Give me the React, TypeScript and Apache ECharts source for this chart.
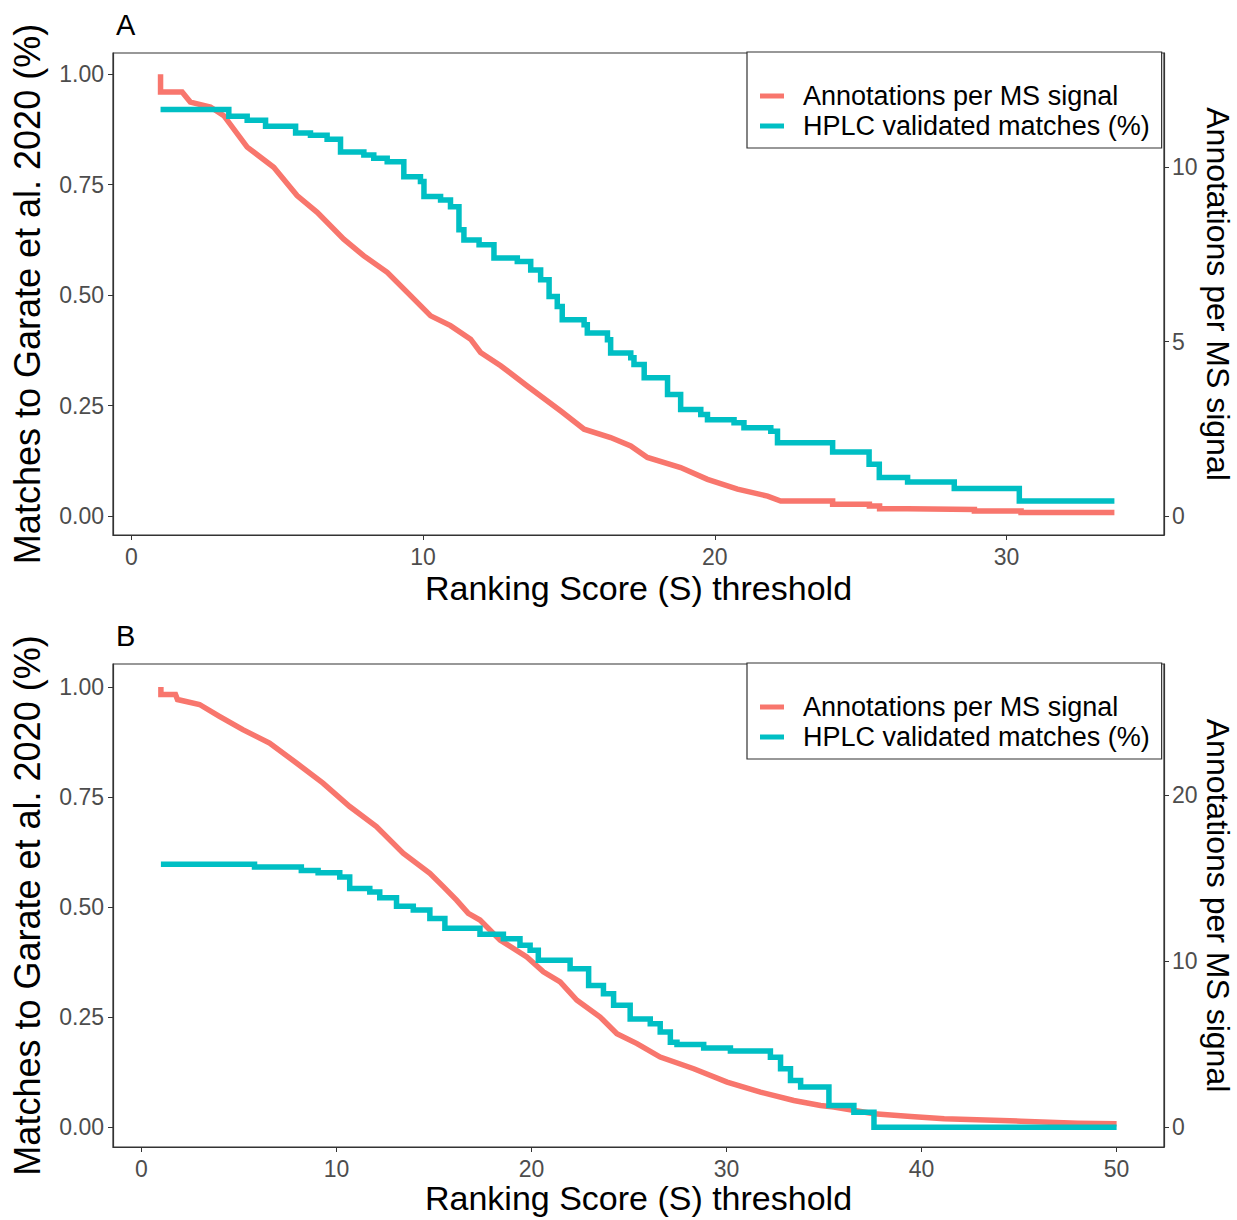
import React, { useEffect, useRef } from "react";
import * as echarts from "echarts";

const seriesNames = ["Annotations per MS signal", "HPLC validated matches (%)"];
const panelLabels = ["A", "B"];
const xTitle = "Ranking Score (S) threshold";
const leftTitle = "Matches to Garate et al. 2020 (%)";
const rightTitle = "Annotations per MS signal";

const leftTicks = [0, 0.25, 0.5, 0.75, 1];
const xTicksA = [0, 10, 20, 30];
const rightTicksA = [0, 5, 10];
const xTicksB = [0, 10, 20, 30, 40, 50];
const rightTicksB = [0, 10, 20];

// Panel A: annotations per MS signal (right axis units)
const redA: [number, number][] = [
  [1, 12.67], [1, 12.16], [1.74, 12.16], [2.02, 11.87], [2.71, 11.73], [3.17, 11.48],
  [3.97, 10.58], [4.88, 10.0], [5.68, 9.19], [6.37, 8.71], [7.28, 7.94], [7.97, 7.46],
  [8.77, 6.99], [9.57, 6.32], [10.26, 5.74], [10.94, 5.46], [11.63, 5.07], [11.97, 4.69],
  [12.66, 4.31], [13.57, 3.73], [14.72, 3.01], [15.52, 2.49], [16.43, 2.25], [17.12, 2.01],
  [17.69, 1.68], [18.83, 1.39], [19.75, 1.05], [20.78, 0.77], [21.81, 0.57], [22.26, 0.43],
  [24.04, 0.43], [24.04, 0.34], [25.3, 0.34], [25.3, 0.29], [25.65, 0.29], [25.65, 0.21],
  [26.6, 0.21], [26.6, 0.19], [28.9, 0.19], [28.9, 0.14], [30.5, 0.14], [30.5, 0.1], [33.7, 0.1],
];

// Panel A: HPLC validated matches (left axis units), step points
const tealA: [number, number][] = [
  [1, 0.92], [3.34, 0.905], [3.97, 0.896], [4.6, 0.882], [5.63, 0.867], [6.14, 0.862],
  [6.71, 0.853], [7.17, 0.824], [7.97, 0.817], [8.31, 0.81], [8.77, 0.802], [9.34, 0.768],
  [9.91, 0.757], [10.03, 0.723], [10.6, 0.715], [10.94, 0.7], [11.23, 0.648], [11.4, 0.625],
  [11.92, 0.614], [12.43, 0.584], [13.23, 0.576], [13.69, 0.557], [14.03, 0.535], [14.32, 0.497],
  [14.6, 0.474], [14.77, 0.444], [15.52, 0.433], [15.63, 0.414], [16.32, 0.399], [16.43, 0.369],
  [17.12, 0.358], [17.23, 0.343], [17.58, 0.313], [18.38, 0.275], [18.83, 0.241], [19.52, 0.23],
  [19.75, 0.218], [20.66, 0.211], [21.0, 0.2], [21.92, 0.192], [22.15, 0.166], [24.04, 0.145],
  [25.29, 0.117], [25.64, 0.087], [26.61, 0.077], [28.21, 0.062], [30.44, 0.034], [33.7, 0.034],
];

// Panel B: annotations per MS signal (right axis units)
const redB: [number, number][] = [
  [1, 26.5], [1, 26.04], [1.75, 26.04], [1.85, 25.74], [2.98, 25.44], [4.0, 24.73],
  [5.2, 23.93], [6.57, 23.12], [7.95, 21.92], [9.31, 20.71], [10.68, 19.3], [12.05, 18.09],
  [13.42, 16.49], [14.79, 15.28], [15.48, 14.48], [16.16, 13.67], [16.76, 12.87], [17.36, 12.47],
  [18.39, 11.26], [19.76, 10.25], [20.61, 9.35], [21.47, 8.75], [22.33, 7.64], [23.52, 6.63],
  [24.38, 5.63], [25.41, 5.03], [26.6, 4.22], [28.32, 3.52], [30.03, 2.71], [31.74, 2.11],
  [33.45, 1.61], [34.82, 1.31], [35.5, 1.21], [37.56, 0.81], [39.45, 0.65], [41.16, 0.51],
  [45.1, 0.36], [48.0, 0.24], [50, 0.2],
];

// Panel B: HPLC validated matches (left axis units), step points
const tealB: [number, number][] = [
  [1, 0.597], [5.8, 0.591], [8.2, 0.583], [9.06, 0.578], [10.17, 0.568], [10.68, 0.542],
  [11.71, 0.534], [12.22, 0.521], [13.08, 0.502], [13.94, 0.493], [14.79, 0.474], [15.56, 0.452],
  [17.36, 0.438], [18.56, 0.428], [19.41, 0.413], [19.93, 0.402], [20.35, 0.379], [21.98, 0.36],
  [22.93, 0.322], [23.69, 0.303], [24.21, 0.277], [25.06, 0.246], [26.09, 0.235], [26.6, 0.216],
  [27.12, 0.193], [27.46, 0.188], [28.83, 0.18], [30.2, 0.173], [32.25, 0.159], [32.77, 0.133],
  [33.28, 0.106], [33.8, 0.091], [35.25, 0.049], [36.53, 0.034], [37.56, 0.0], [50, 0.0],
];

const RED = "#F8766D";
const TEAL = "#00BFC4";
const FONT = "'Liberation Sans', Arial, sans-serif";
const AXIS_COL = "#333333";
const LABEL_COL = "#4D4D4D";

type PanelCfg = {
  top: number;
  height: number;
  xMin: number;
  xMax: number;
  yMin: number;
  yMax: number;
  k: number;
  xTicks: number[];
  rightTicks: number[];
  red: [number, number][];
  teal: [number, number][];
  xNameGap: number;
};

const panels: PanelCfg[] = [
  {
    top: 53, height: 482, xMin: -0.63, xMax: 35.4, yMin: -0.043, yMax: 1.048, k: 12.67,
    xTicks: xTicksA, rightTicks: rightTicksA, red: redA, teal: tealA, xNameGap: 36,
  },
  {
    top: 664, height: 483, xMin: -1.456, xMax: 52.43, yMin: -0.045, yMax: 1.052, k: 26.5,
    xTicks: xTicksB, rightTicks: rightTicksB, red: redB, teal: tealB, xNameGap: 34,
  },
];

function buildOption() {
  const grid: any[] = [];
  const xAxis: any[] = [];
  const yAxis: any[] = [];
  const series: any[] = [];
  const legend: any[] = [];
  const graphic: any[] = [];

  const tickStyle = { show: true, length: 5, lineStyle: { color: AXIS_COL, width: 1 } };
  const lineStyleAxis = { show: true, onZero: false, lineStyle: { color: AXIS_COL, width: 1.2 } };

  panels.forEach((p, i) => {
    grid.push({
      left: 113, top: p.top, width: 1051, height: p.height,
      show: true, borderColor: AXIS_COL, borderWidth: 1.2, backgroundColor: "transparent",
      containLabel: false, outerBoundsMode: "none",
    });
    xAxis.push({
      type: "value", gridIndex: i, min: p.xMin, max: p.xMax,
      axisLine: lineStyleAxis,
      axisTick: { ...tickStyle, customValues: p.xTicks },
      axisLabel: { customValues: p.xTicks, fontSize: 23, color: LABEL_COL, margin: 10, fontFamily: FONT },
      splitLine: { show: false },
      name: xTitle, nameLocation: "middle", nameGap: p.xNameGap,
      nameTextStyle: { fontSize: 34, color: "#000", fontFamily: FONT },
    });
    yAxis.push({
      type: "value", gridIndex: i, position: "left", min: p.yMin, max: p.yMax,
      axisLine: lineStyleAxis,
      axisTick: { ...tickStyle, customValues: leftTicks },
      axisLabel: {
        customValues: leftTicks, fontSize: 23, color: LABEL_COL, margin: 9, fontFamily: FONT,
        formatter: (v: number) => v.toFixed(2),
      },
      splitLine: { show: false },
      name: leftTitle, nameLocation: "middle", nameGap: 68, nameRotate: 90,
      nameTextStyle: { fontSize: 36, color: "#000", fontFamily: FONT },
    });
    yAxis.push({
      type: "value", gridIndex: i, position: "right", min: p.yMin * p.k, max: p.yMax * p.k,
      axisLine: lineStyleAxis,
      axisTick: { ...tickStyle, customValues: p.rightTicks },
      axisLabel: { customValues: p.rightTicks, fontSize: 23, color: LABEL_COL, margin: 8, fontFamily: FONT },
      splitLine: { show: false },
      name: rightTitle, nameLocation: "middle", nameGap: 38, nameRotate: -90, nameMoveOverlap: false,
      nameTextStyle: { fontSize: 32, color: "#000", fontFamily: FONT },
    });
    series.push({
      name: seriesNames[0], type: "line", xAxisIndex: i, yAxisIndex: 2 * i + 1,
      data: p.red, showSymbol: false, symbol: "none", clip: true,
      lineStyle: { color: RED, width: 5.5, cap: "butt", join: "miter" }, itemStyle: { color: RED },
    });
    series.push({
      name: seriesNames[1], type: "line", xAxisIndex: i, yAxisIndex: 2 * i, step: "end",
      data: p.teal, showSymbol: false, symbol: "none", clip: true,
      lineStyle: { color: TEAL, width: 5.5, cap: "butt", join: "miter" }, itemStyle: { color: TEAL },
    });
    legend.push({
      data: seriesNames, orient: "vertical", left: 747, top: p.top - 1,
      backgroundColor: "#fff", borderColor: AXIS_COL, borderWidth: 1.2, borderRadius: 0,
      padding: [29, 12, 7, 13], itemGap: 0, itemWidth: 24, itemHeight: 5, icon: "rect",
      selectedMode: false,
      textStyle: { fontSize: 27, color: "#000", fontFamily: FONT, lineHeight: 30, padding: [0, 0, 0, 14] },
    });
    graphic.push({
      type: "text", left: 116, top: p.top - 43,
      style: { text: panelLabels[i], fontSize: 29, fill: "#000", fontFamily: FONT },
    });
  });

  return { animation: false, backgroundColor: "#fff", grid, xAxis, yAxis, series, legend, graphic };
}

export default function App() {
  const ref = useRef<HTMLDivElement>(null);
  useEffect(() => {
    if (!ref.current) return;
    const chart = echarts.init(ref.current, undefined, { renderer: "svg" });
    chart.setOption(buildOption() as any);
    return () => chart.dispose();
  }, []);
  return (
    <div
      ref={ref}
      style={{ position: "absolute", left: 0, top: 0, width: 1237, height: 1220, background: "#fff" }}
    />
  );
}
